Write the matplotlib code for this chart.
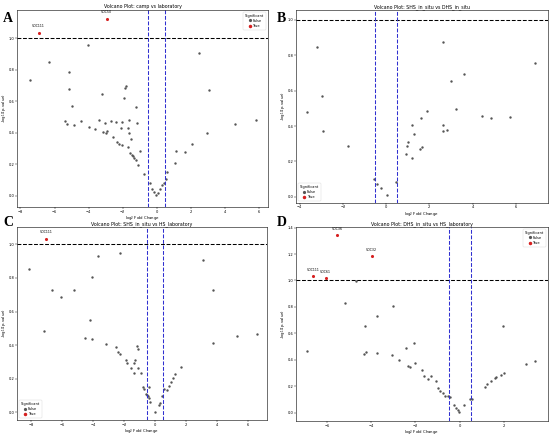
import matplotlib
matplotlib.use("Agg")
import matplotlib.pyplot as plt
from matplotlib.lines import Line2D

# panel A: camp vs laboratory
a_fc = [-6.93, -2.95, -7.44, -6.31, -5.13, -5.13, -4.99, -5.38, -5.28, -4.87, -4.43, -4.0, -4.04,
        -3.65, -3.40, -3.20, -3.18, -3.03, -2.99, -2.91, -2.66, -2.41, -2.58, -2.31, -2.19, -2.10,
        -2.04, -2.06, -1.94, -1.86, -1.79, -1.71, -1.71, -1.61, -1.63, -1.59, -1.51, -1.48, -1.38,
        -1.32, -1.24, -1.20, -1.18, -1.09, -0.97, -0.74, -0.41, -0.31, -0.19, -0.04, 0.04, 0.17,
        0.31, 0.43, 0.54, 0.62, 1.05, 1.13, 1.65, 2.08, 2.50, 2.95, 3.05, 4.60, 5.83]
a_p = [1.034, 1.123, 0.737, 0.847, 0.786, 0.677, 0.569, 0.473, 0.456, 0.452, 0.478, 0.435, 0.960,
       0.425, 0.482, 0.648, 0.406, 0.463, 0.397, 0.414, 0.476, 0.469, 0.372, 0.344, 0.331, 0.429,
       0.467, 0.321, 0.622, 0.684, 0.699, 0.312, 0.433, 0.484, 0.401, 0.274, 0.359, 0.263, 0.255,
       0.240, 0.227, 0.563, 0.465, 0.195, 0.284, 0.142, 0.083, 0.047, 0.025, 0.008, 0.019, 0.047,
       0.068, 0.083, 0.110, 0.153, 0.210, 0.284, 0.280, 0.329, 0.907, 0.399, 0.673, 0.456, 0.482]
a_labels = {0: "VOC111", 1: "VOC50"}

# panel B: SHS_in_situ vs DHS_in_situ
b_fc = [-3.22, -3.65, -2.98, -2.94, -1.78, -0.55, -0.43, -0.23, 0.03, 0.45, 0.94, 0.95, 1.03,
        1.22, 1.20, 1.31, 1.55, 1.65, 1.60, 1.88, 2.65, 2.65, 2.63, 2.80, 2.98, 3.22, 3.60, 4.42,
        4.85, 5.75, 6.88]
b_p = [0.848, 0.477, 0.570, 0.373, 0.285, 0.101, 0.075, 0.049, 0.011, 0.083, 0.240, 0.285, 0.311,
       0.405, 0.218, 0.353, 0.268, 0.280, 0.443, 0.484, 0.871, 0.403, 0.371, 0.379, 0.653, 0.497,
       0.692, 0.456, 0.443, 0.452, 0.758]
b_labels = {}

# panel C: SHS_in_situ vs HS_laboratory
c_fc = [-7.05, -8.15, -7.20, -6.64, -6.06, -5.26, -4.53, -4.22, -4.09, -4.07, -3.66, -3.19, -2.52,
        -2.41, -2.28, -2.24, -1.85, -1.81, -1.53, -1.36, -1.29, -1.34, -1.16, -1.12, -1.10, -0.93,
        -0.78, -0.71, -0.60, -0.52, -0.45, -0.41, -0.37, -0.32, 0.0, 0.24, 0.30, 0.43, 0.60, 0.78,
        0.88, 1.03, 1.16, 1.31, 1.66, 3.10, 3.75, 3.73, 5.32, 6.57]
c_p = [1.031, 0.851, 0.483, 0.728, 0.687, 0.730, 0.444, 0.552, 0.804, 0.436, 0.932, 0.407, 0.387,
       0.358, 0.949, 0.344, 0.309, 0.294, 0.266, 0.292, 0.309, 0.233, 0.393, 0.374, 0.266, 0.235,
       0.149, 0.139, 0.110, 0.100, 0.094, 0.147, 0.086, 0.061, 0.002, 0.041, 0.053, 0.094, 0.135,
       0.131, 0.155, 0.178, 0.202, 0.225, 0.272, 0.908, 0.726, 0.415, 0.452, 0.468]
c_labels = {0: "VOC111"}

# panel D: DHS_in_situ vs HS_laboratory
d_fc = [-5.53, -3.98, -6.60, -6.05, -6.88, -5.17, -4.68, -4.34, -4.26, -4.23, -3.75, -3.75, -3.06,
        -3.00, -2.74, -2.42, -2.32, -2.26, -2.05, -2.02, -1.68, -1.61, -1.42, -1.30, -1.05, -0.99,
        -0.87, -0.75, -0.65, -0.53, -0.45, -0.24, -0.17, -0.09, -0.02, 0.18, 0.45, 0.57, 1.13, 1.22,
        1.43, 1.58, 1.66, 1.86, 1.99, 1.96, 2.98, 3.42]
d_p = [1.341, 1.182, 1.033, 1.020, 0.470, 0.828, 0.997, 0.444, 0.654, 0.457, 0.735, 0.449, 0.434,
       0.806, 0.402, 0.490, 0.354, 0.346, 0.525, 0.374, 0.326, 0.278, 0.258, 0.280, 0.242, 0.187,
       0.164, 0.149, 0.126, 0.129, 0.121, 0.061, 0.035, 0.023, 0.010, 0.061, 0.104, 0.106, 0.197,
       0.215, 0.240, 0.265, 0.273, 0.288, 0.303, 0.654, 0.371, 0.391]
d_labels = {0: "VOC36", 1: "VOC32", 2: "VOC111", 3: "VOC61"}

titles = ["Volcano Plot: camp vs laboratory",
          "Volcano Plot: SHS_in_situ vs DHS_in_situ",
          "Volcano Plot: SHS_in_situ vs HS_laboratory",
          "Volcano Plot: DHS_in_situ vs HS_laboratory"]
letters = ["A", "B", "C", "D"]

W, H = 550, 436
fig = plt.figure(figsize=(W / 100, H / 100), dpi=100)


def px_axes(l, t, r, b):
    return fig.add_axes([l / W, 1 - b / H, (r - l) / W, (b - t) / H])


panels = [
    (a_fc, a_p, a_labels, (17, 10, 268, 207), (-8.2, 6.52), (-0.07, 1.18), "upper right", [-8, -6, -4, -2, 0, 2, 4, 6], [0, 0.2, 0.4, 0.6, 0.8, 1.0]),
    (b_fc, b_p, b_labels, (296, 10, 548, 203), (-4.17, 7.49), (-0.034, 1.054), "lower left", [-4, -2, 0, 2, 4, 6], [0, 0.2, 0.4, 0.6, 0.8, 1.0]),
    (c_fc, c_p, c_labels, (17, 227, 267, 420), (-8.92, 7.24), (-0.047, 1.104), "lower left", [-8, -6, -4, -2, 0, 2, 4, 6], [0, 0.2, 0.4, 0.6, 0.8, 1.0]),
    (d_fc, d_p, d_labels, (296, 227, 548, 421), (-7.39, 3.99), (-0.061, 1.404), "upper right", [-6, -4, -2, 0, 2], [0, 0.2, 0.4, 0.6, 0.8, 1.0, 1.2, 1.4]),
]
letter_pos = [(3, 22), (277, 22), (3, 226), (277, 226)]

for i, (fc, p, labels, box, xl, yl, loc, xt, yt) in enumerate(panels):
    ax = px_axes(*box)
    sig = [k in labels for k in range(len(fc))]
    gx = [x for x, s in zip(fc, sig) if not s]
    gy = [y for y, s in zip(p, sig) if not s]
    rx = [x for x, s in zip(fc, sig) if s]
    ry = [y for y, s in zip(p, sig) if s]
    ax.scatter(gx, gy, s=3, color="#555555", linewidths=0)
    ax.scatter(rx, ry, s=5, color="#d62020", linewidths=0)
    for k, name in labels.items():
        ax.text(fc[k], p[k] + 0.03, name, fontsize=2.3, ha="center", va="bottom")
    ax.axhline(1.0, color="black", ls="--", lw=0.75)
    ax.axvline(-0.5, color="#3030d0", ls="--", lw=0.75)
    ax.axvline(0.5, color="#3030d0", ls="--", lw=0.75)
    ax.set_xlim(*xl)
    ax.set_ylim(*yl)
    ax.set_xticks(xt)
    ax.set_yticks(yt)
    ax.tick_params(labelsize=2.6, length=1.2, width=0.3, pad=0.6)
    for sp in ax.spines.values():
        sp.set_linewidth(0.4)
    ax.set_title(titles[i], fontsize=3.4, pad=1.2)
    ax.set_xlabel("log$_2$ Fold Change", fontsize=2.8, labelpad=0.4)
    ax.set_ylabel("-log$_{10}$(p-value)", fontsize=2.8, labelpad=0.6)
    handles = [Line2D([], [], ls="", marker="o", ms=1.3, color="#555555", label="False"),
               Line2D([], [], ls="", marker="o", ms=1.5, color="#d62020", label="True")]
    leg = ax.legend(handles=handles, title="Significant", loc=loc, fontsize=2.6,
                    title_fontsize=2.6, handletextpad=0.3, borderpad=0.5, labelspacing=0.3,
                    handlelength=1.0, frameon=True)
    leg.get_frame().set_linewidth(0.3)
    lx, ly = letter_pos[i]
    fig.text(lx / W, 1 - ly / H, letters[i], fontsize=10, fontweight="bold",
             family="Liberation Serif", ha="left", va="baseline")

fig.savefig("out.png", dpi=100)
